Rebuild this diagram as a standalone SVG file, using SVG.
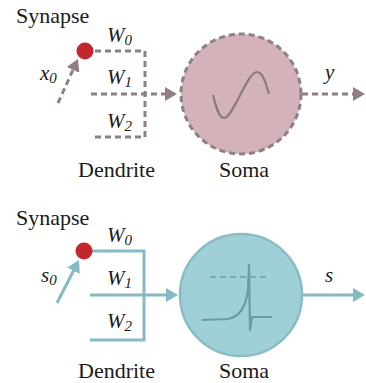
<svg xmlns="http://www.w3.org/2000/svg" width="366" height="383" viewBox="0 0 366 383">
<defs>
<style>
text{font-family:'Liberation Serif','Times New Roman',Times,serif;font-size:22px;fill:#1a1a1a}
.it{font-style:italic;font-size:21px}
.sub{font-size:15px}
.g{fill:none;stroke:#8e7f84;stroke-width:3;stroke-dasharray:6 4}
.t{fill:none;stroke:#86bac3;stroke-width:3}
.dot{fill:#c1272d}
</style>
<marker id="ag" markerUnits="userSpaceOnUse" markerWidth="12" markerHeight="14" refX="1" refY="7" orient="auto"><path d="M0,0 L12,7 L0,14 z" fill="#8e7f84"/></marker>
<marker id="at" markerUnits="userSpaceOnUse" markerWidth="12" markerHeight="14" refX="1" refY="7" orient="auto"><path d="M0,0 L12,7 L0,14 z" fill="#86bac3"/></marker>
</defs>

<!-- Top panel -->
<g id="connectors-top">
<path class="g" d="M85,51 H145 V137 H91"/>
<path class="g" d="M91,94 H166" marker-end="url(#ag)"/>
<path class="g" d="M302,94 H354" marker-end="url(#ag)"/>
<path class="g" d="M58,103 L73.4,69" marker-end="url(#ag)"/>
</g>
<g id="synapse-top">
<text x="16" y="23">Synapse</text>
<circle class="dot" cx="85" cy="51" r="8.5"/>
</g>
<g id="labels-top">
<text class="it" x="40" y="80">x<tspan class="sub" dy="3">0</tspan></text>
<text class="it" x="107" y="42">W<tspan class="sub" dy="3">0</tspan></text>
<text class="it" x="107" y="84">W<tspan class="sub" dy="3">1</tspan></text>
<text class="it" x="107" y="128">W<tspan class="sub" dy="3">2</tspan></text>
<text class="it" x="325" y="79">y</text>
<text x="78" y="177">Dendrite</text>
</g>
<g id="soma-top">
<circle cx="241" cy="94" r="60" fill="#d3b3b9" stroke="#8e7f84" stroke-width="3" stroke-dasharray="6 4"/>
<path d="M213,95 C216,107 219,118 224,118 C233,118 247,72 257,72 C263,72 266,84 269,94" fill="none" stroke="#8a7a7f" stroke-width="2.2"/>
<text x="219" y="177">Soma</text>
</g>

<!-- Bottom panel -->
<g id="connectors-bottom">
<path class="t" d="M84,251 H144 V340 H90"/>
<path class="t" d="M90,295 H167" marker-end="url(#at)"/>
<path class="t" d="M303,295 H354" marker-end="url(#at)"/>
<path class="t" d="M57,303 L74,269.8" marker-end="url(#at)"/>
</g>
<g id="synapse-bottom">
<text x="16" y="225">Synapse</text>
<circle class="dot" cx="84" cy="251" r="8.5"/>
</g>
<g id="labels-bottom">
<text class="it" x="41" y="282">s<tspan class="sub" dy="3">0</tspan></text>
<text class="it" x="107" y="242">W<tspan class="sub" dy="3">0</tspan></text>
<text class="it" x="107" y="285">W<tspan class="sub" dy="3">1</tspan></text>
<text class="it" x="107" y="328">W<tspan class="sub" dy="3">2</tspan></text>
<text class="it" x="325" y="282">s</text>
<text x="78" y="378">Dendrite</text>
</g>
<g id="soma-bottom">
<circle cx="241" cy="295" r="61" fill="#a0d0d7" stroke="#89bcc4" stroke-width="2.5"/>
<path d="M210,277 H270" fill="none" stroke="#7aaab1" stroke-width="2" stroke-dasharray="6 4"/>
<path d="M202,320 L228,319 C240,317 246,305 248,290 L249,265 L250,330 L252,317 L272,317" fill="none" stroke="#6c9ca3" stroke-width="2.2" stroke-linejoin="round"/>
<text x="219" y="378">Soma</text>
</g>
</svg>
